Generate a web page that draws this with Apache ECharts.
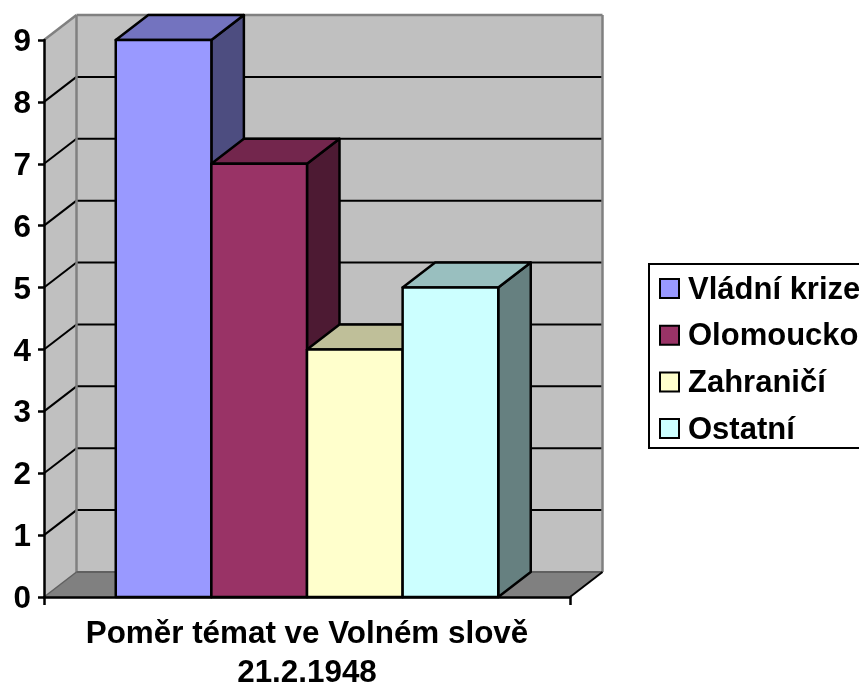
<!DOCTYPE html>
<html><head><meta charset="utf-8">
<style>html,body{margin:0;padding:0;background:#fff;overflow:hidden}#c{width:859px;height:683px}</style>
<script src="https://cdn.jsdelivr.net/npm/echarts@6/dist/echarts.min.js"></script>
</head><body><div id="c"></div>
<script>
const categories = ['Poměr témat ve Volném slově\n21.2.1948'];
const seriesNames = ['Vládní krize', 'Olomoucko', 'Zahraničí', 'Ostatní'];
const values = [9, 7, 4, 5];
const tickValues = [0, 1, 2, 3, 4, 5, 6, 7, 8, 9];
const frontColors = ['#9999FF', '#993366', '#FFFFCC', '#CCFFFF'];
const topColors = ['#7373BF', '#73264D', '#BFBF99', '#99BFBF'];
const sideColors = ['#4D4D80', '#4D1A33', '#808066', '#668080'];
const DX = 32.5, DY = -25, BAR_FRACTION = 0.1818, FONT = '"Liberation Sans", Arial, sans-serif';

function poly(points, fill, stroke, lineWidth) {
  return { type: 'polygon', shape: { points }, style: { fill, stroke, lineWidth, lineJoin: 'round' } };
}
function line(a, b, stroke, lineWidth) {
  return { type: 'line', shape: { x1: a[0], y1: a[1], x2: b[0], y2: b[1] }, style: { stroke, lineWidth } };
}
function renderFrame(params, api) {
  const c0 = api.coord([0, 0]), top = api.coord([0, tickValues[tickValues.length - 1]]);
  const w = api.size([1, 0])[0], L = c0[0] - w / 2, R = c0[0] + w / 2, B = c0[1], T = top[1];
  const kids = [
    poly([[L, B], [L + DX, B + DY], [L + DX, T + DY], [L, T]], '#C0C0C0', 'none', 0),
    poly([[L + DX, B + DY], [R + DX, B + DY], [R + DX, T + DY], [L + DX, T + DY]], '#C0C0C0', 'none', 0),
    poly([[L, B], [R, B], [R + DX, B + DY], [L + DX, B + DY]], '#808080', 'none', 0)
  ];
  tickValues.forEach(v => {
    if (v === 0 || v === tickValues[tickValues.length - 1]) return;
    const y = api.coord([0, v])[1];
    kids.push(line([L, y], [L + DX, y + DY], '#000', 2));
    kids.push(line([L + DX, y + DY], [R + DX, y + DY], '#000', 2));
  });
  kids.push(line([L, T], [L + DX, T + DY], '#808080', 2.5));
  kids.push(line([L + DX, T + DY], [R + DX, T + DY], '#808080', 2.5));
  kids.push(line([R + DX, T + DY], [R + DX, B + DY], '#808080', 2.5));
  kids.push(line([L + DX, T + DY], [L + DX, B + DY], '#808080', 2.5));
  kids.push(line([L + DX, B + DY], [R + DX, B + DY], '#606060', 2));
  kids.push(line([L, B], [L + DX, B + DY], '#606060', 1.5));
  kids.push(line([R, B], [R + DX, B + DY], '#000', 2));
  return { type: 'group', children: kids };
}
function makeBar(i) {
  return function (params, api) {
    const w = api.size([1, 0])[0] * BAR_FRACTION;
    const p = api.coord([api.value(0), api.value(1)]), b = api.coord([api.value(0), 0]);
    const x0 = p[0] + (i - 2) * w, x1 = x0 + w, yT = p[1], yB = b[1];
    const st = { s: '#000', lw: 2.5 };
    return { type: 'group', children: [
      poly([[x1, yB], [x1 + DX, yB + DY], [x1 + DX, yT + DY], [x1, yT]], sideColors[i], st.s, st.lw),
      poly([[x0, yT], [x1, yT], [x1 + DX, yT + DY], [x0 + DX, yT + DY]], topColors[i], st.s, st.lw),
      poly([[x0, yB], [x1, yB], [x1, yT], [x0, yT]], frontColors[i], st.s, st.lw)
    ] };
  };
}
const series = [{
  type: 'custom', name: 'frame', silent: true, clip: false, z: 1,
  data: [[0, 0]], encode: { x: 0, y: 1 }, renderItem: renderFrame
}];
seriesNames.forEach((name, i) => series.push({
  type: 'custom', name, clip: false, z: 2 + i,
  itemStyle: { color: frontColors[i] },
  data: [[0, values[i]]], encode: { x: 0, y: 1 }, renderItem: makeBar(i)
}));
const chart = echarts.init(document.getElementById('c'), null, { renderer: 'canvas' });
chart.setOption({
  animation: false,
  backgroundColor: '#fff',
  grid: { left: 44, top: 40, width: 526, height: 557, containLabel: false, outerBoundsMode: 'none' },
  xAxis: {
    type: 'category', data: categories, z: 10,
    axisLine: { show: true, lineStyle: { color: '#000', width: 2.5 } },
    axisTick: { show: true, length: 8, lineStyle: { color: '#000', width: 2.5 } },
    axisLabel: { color: '#000', fontFamily: FONT, fontWeight: 'bold', fontSize: 31.4, lineHeight: 38.5, margin: 18.5, interval: 0 },
    splitLine: { show: false }
  },
  yAxis: {
    type: 'value', min: 0, max: 9, interval: 1, z: 10,
    axisLine: { show: true, lineStyle: { color: '#000', width: 2.5 } },
    axisTick: { show: true, length: 6, lineStyle: { color: '#000', width: 2.5 } },
    axisLabel: { color: '#000', fontFamily: FONT, fontWeight: 'bold', fontSize: 31.4, margin: 13, verticalAlign: 'top', lineHeight: 5 },
    splitLine: { show: false }
  },
  legend: {
    data: seriesNames, orient: 'vertical', left: 649, top: 264,
    backgroundColor: '#fff', borderColor: '#000', borderWidth: 2,
    padding: [7.5, 10, 2.4, 10], itemWidth: 19, itemHeight: 19, itemGap: 12.7,
    icon: 'rect', selectedMode: false,
    itemStyle: { borderColor: '#000', borderWidth: 2 },
    formatter: name => '{t|' + name + '}',
    textStyle: { color: '#000', rich: { t: { color: '#000', fontFamily: FONT, fontWeight: 'bold', fontSize: 31, lineHeight: 31, padding: [3, 0, 0, 4] } } }
  },
  series
});
</script></body></html>
